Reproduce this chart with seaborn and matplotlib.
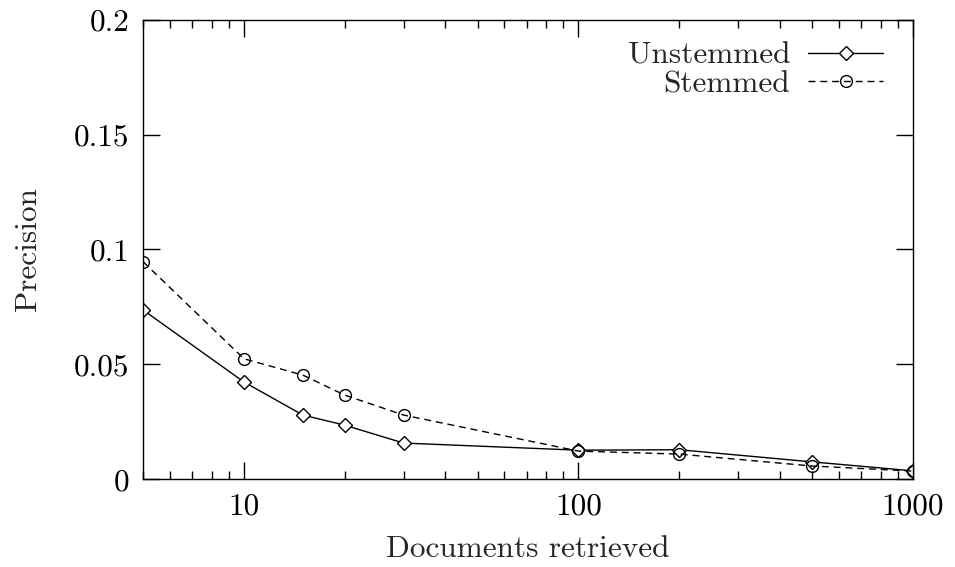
import pandas as pd
import numpy as np
import matplotlib
matplotlib.use("Agg")
import matplotlib.pyplot as plt
import matplotlib.ticker as mticker
import seaborn as sns

docs = [5, 10, 15, 20, 30, 100, 200, 500, 1000]
unstemmed = [0.0736, 0.0423, 0.0279, 0.0235, 0.0157, 0.0126, 0.0128, 0.0075, 0.0036]
stemmed = [0.0946, 0.0524, 0.0453, 0.0366, 0.0279, 0.0122, 0.0109, 0.0057, 0.0035]

sns.set_style("ticks")
plt.rcParams["font.family"] = ["cmr10", "DejaVu Serif"]
plt.rcParams["mathtext.fontset"] = "cm"
plt.rcParams["axes.formatter.use_mathtext"] = True
plt.rcParams["axes.unicode_minus"] = False

fs = 22.5

fig, ax = plt.subplots(figsize=(9.55, 5.67), dpi=100)

df_u = pd.DataFrame({"docs": docs, "prec": unstemmed})
df_s = pd.DataFrame({"docs": docs, "prec": stemmed})

sns.lineplot(data=df_u, x="docs", y="prec", ax=ax, color="black", lw=1,
             marker="D", markersize=7, markerfacecolor="white",
             markeredgecolor="black", markeredgewidth=1, label="Unstemmed")
sns.lineplot(data=df_s, x="docs", y="prec", ax=ax, color="black", lw=1,
             linestyle=(0, (5, 3.5)), marker="o", markersize=8.5,
             markerfacecolor="none", markeredgecolor="black",
             markeredgewidth=1, label="Stemmed")

ax.set_xscale("log")
ax.set_xlim(5, 1000)
ax.set_ylim(0, 0.2)
ax.set_xticks([10, 100, 1000])
ax.xaxis.set_major_formatter(mticker.FuncFormatter(lambda v, p: "%d" % v))
ax.xaxis.set_minor_locator(mticker.LogLocator(base=10, subs=np.arange(2, 10), numticks=20))
ax.xaxis.set_minor_formatter(mticker.NullFormatter())
ax.set_yticks([0, 0.05, 0.1, 0.15, 0.2])
ax.yaxis.set_major_formatter(mticker.FuncFormatter(lambda v, p: "%g" % v))

ax.tick_params(which="both", direction="in", top=True, right=True, width=1, labelsize=fs, colors="black")
ax.tick_params(which="major", length=12, pad=10)
ax.tick_params(which="minor", length=6)
for s in ax.spines.values():
    s.set_linewidth(1)
    s.set_color("black")

ax.set_xlabel("Documents retrieved", fontsize=fs, labelpad=10)
ax.set_ylabel("Precision", fontsize=fs, labelpad=23)

leg = ax.legend(loc="upper right", bbox_to_anchor=(0.99, 1.0), frameon=False,
                markerfirst=False, fontsize=fs, handlelength=2.4,
                handletextpad=0.58, labelspacing=0.02, borderaxespad=0.3)

fig.subplots_adjust(left=0.15, right=0.956, top=0.965, bottom=0.155)
fig.savefig("out.png", dpi=100)
